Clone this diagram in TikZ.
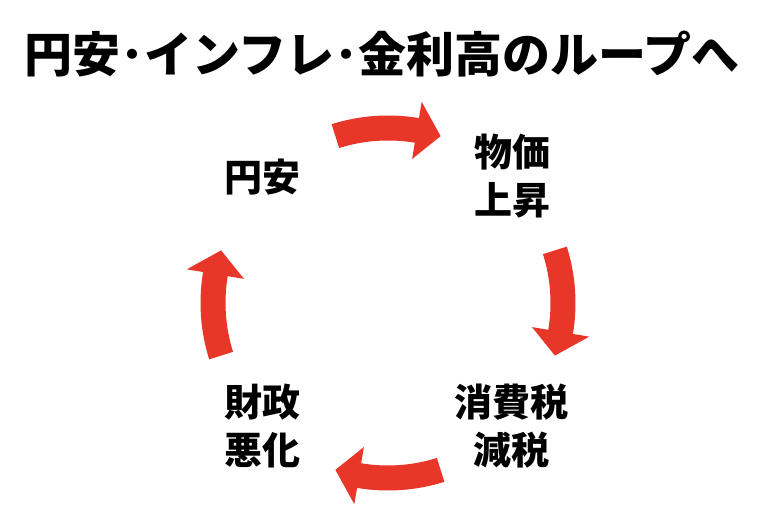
\documentclass[tikz,border=0pt]{standalone}
\usepackage{fontspec}
\setmainfont{Noto Sans CJK JP}
\definecolor{arrowred}{RGB}{232,54,41}
\begin{document}
\begin{tikzpicture}[x=1pt,y=1pt,
  lbl/.style={font=\fontsize{38}{48}\selectfont\bfseries, align=center, inner sep=0pt},
  ttl/.style={font=\fontsize{48}{52}\selectfont\bfseries, inner sep=0pt},
  cyc/.style={fill=arrowred, draw=none}]
\useasboundingbox[fill=white] (0,0) rectangle (768,526);
\coordinate (c) at (388,223);
\node[ttl] (title) at (382,472) {円安･インフレ･金利高のループへ};
\node[lbl] (yen) at (262,349) {円安};
\node[lbl] (price) at (512,350) {物価\\上昇};
\node[lbl] (tax) at (511,100) {消費税\\減税};
\node[lbl] (fiscal) at (262,100) {財政\\悪化};
\foreach \a in {90,0,-90,180}{
  \pgfmathsetmacro{\t}{\a+17.5}
  \pgfmathsetmacro{\b}{\a-9.5}
  \pgfmathsetmacro{\p}{\a-17.5}
  \fill[cyc] ([shift={(c)}]\t:187.5) arc[start angle=\t, end angle=\b, radius=187.5]
    -- ([shift={(c)}]\b:204) -- ([shift={(c)}]\p:175) -- ([shift={(c)}]\b:146)
    -- ([shift={(c)}]\b:162.5) arc[start angle=\b, end angle=\t, radius=162.5] -- cycle;
}
\end{tikzpicture}
\end{document}
